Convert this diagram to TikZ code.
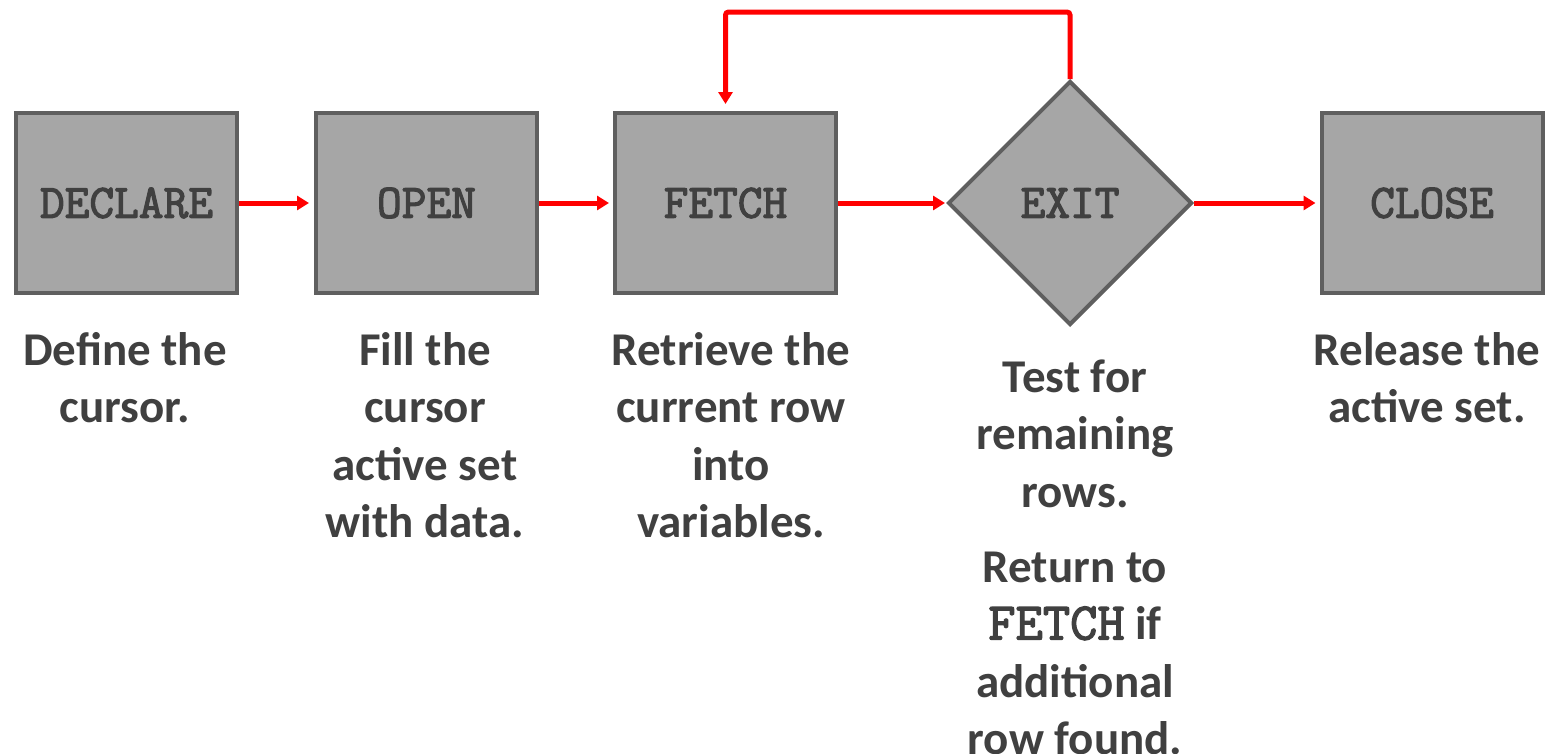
\documentclass[tikz,border=0pt]{standalone}
\usepackage{fontspec}
\setmainfont{Carlito}
\setmonofont{Latin Modern Mono}[AutoFakeBold=2.5]
\usetikzlibrary{shapes.geometric,arrows.meta}
\definecolor{boxfill}{HTML}{A6A6A6}
\definecolor{boxline}{HTML}{5F5F5F}
\definecolor{txt}{HTML}{404040}
\definecolor{flow}{HTML}{FF0000}
\tikzset{
  stepbox/.style={draw=boxline, fill=boxfill, line width=4pt, minimum width=221pt,
    minimum height=180pt, inner sep=0pt, text=txt,
    font=\fontsize{48}{56}\selectfont\ttfamily\bfseries},
  decision/.style={diamond, aspect=1, draw=boxline, fill=boxfill, line width=4pt,
    minimum width=244pt, minimum height=244pt, inner sep=0pt, text=txt,
    font=\fontsize{48}{56}\selectfont\ttfamily\bfseries},
  caption/.style={font=\fontsize{47}{57.5}\selectfont\bfseries, text=txt,
    align=center, anchor=base, inner sep=0pt},
  flowarrow/.style={draw=flow, line width=5pt, -{Triangle[length=12pt,width=14pt]}},
}
\begin{document}
\begin{tikzpicture}[x=1pt,y=-1pt]
  \fill[white] (0,0) rectangle (1550,753);
  \useasboundingbox (0,0) rectangle (1550,753);

  \node[stepbox] (declare) at (126.5,203) {DECLARE};
  \node[stepbox] (open)    at (426.5,203) {OPEN};
  \node[stepbox] (fetch)   at (725.5,203) {FETCH};
  \node[decision] (exit)   at (1070,203) {\raisebox{-4pt}{EXIT}};
  \node[stepbox] (close)   at (1432,203) {CLOSE};

  \draw[flowarrow, shorten >=5pt] (declare.east) -- (open.west);
  \draw[flowarrow, shorten >=4pt] (open.east) -- (fetch.west);
  \draw[flowarrow, shorten >=1pt] (fetch.east) -- (exit.west);
  \draw[flowarrow, shorten >=4pt] (exit.east) -- (close.west);
  \coordinate (looptop) at (898,12);
  \draw[flowarrow, rounded corners=3pt, shorten >=7pt] (exit.north) |- (looptop) -| (fetch.north);

  \node[caption] (capdeclare) at (125,422.5) {Define the\\cursor.};
  \node[caption] (capopen) at (425,537.5) {Fill the\\cursor\\active set\\with data.};
  \node[caption] (capfetch) at (731,537.5) {Retrieve the\\current row\\into\\variables.};
  \node[caption] (capexit) at (1075,754.5) {Test for\\remaining\\rows.\\[17.5pt]Return to\\{\fontsize{53}{57.5}\selectfont\ttfamily\bfseries FETCH} if\\additional\\row found.};
  \node[caption] (capclose) at (1427,422.5) {Release the\\active set.};
\end{tikzpicture}
\end{document}
